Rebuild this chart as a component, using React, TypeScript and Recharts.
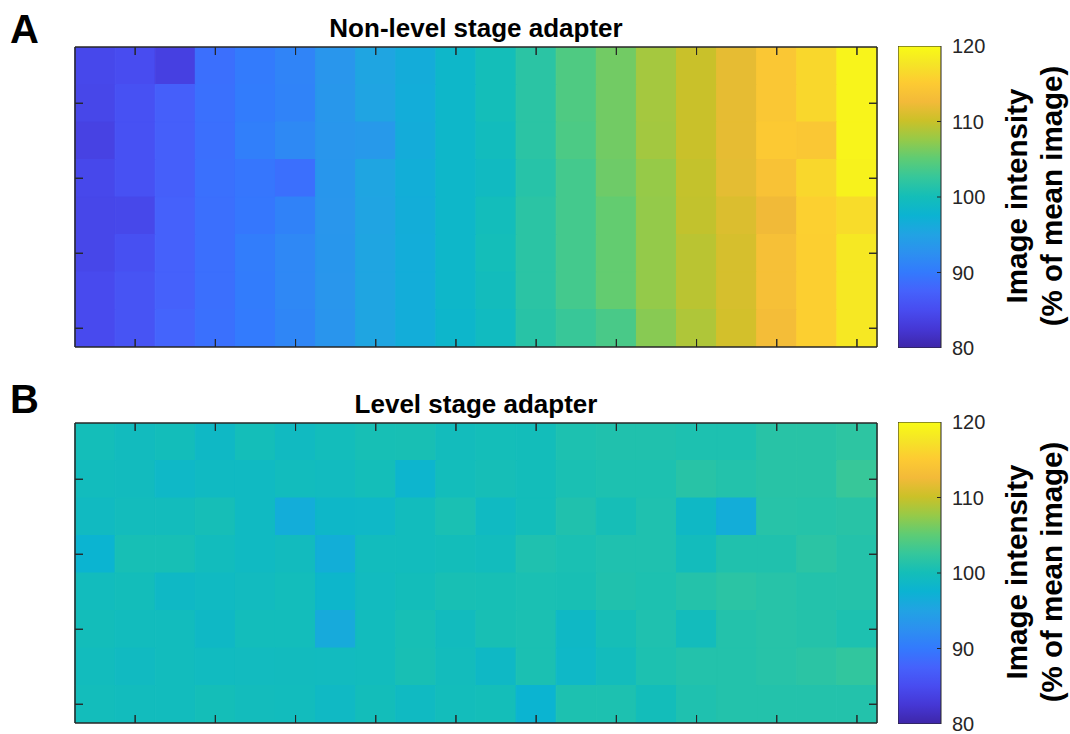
import React from 'react';
import { BarChart, Bar, Cell, XAxis, YAxis } from 'recharts';

// Grid layout: 20 columns x 8 rows per panel
const COLUMNS = [1, 2, 3, 4, 5, 6, 7, 8, 9, 10, 11, 12, 13, 14, 15, 16, 17, 18, 19, 20];
const X_TICKS = [2, 4, 6, 8, 10, 12, 14, 16, 18, 20];
const Y_TICKS = [2, 4, 6, 8];
const COLOR_TICKS = [80, 90, 100, 110, 120];
const COLOR_RANGE = [80, 120];

// Image intensity (% of mean image), one array per row, top row first
const nonLevelRows = [
  [84.6, 85.0, 83.6, 88.9, 90.2, 91.2, 93.3, 95.3, 96.5, 98.4, 100.0, 101.8, 104.2, 106.0, 108.3, 110.0, 111.8, 114.5, 116.3, 119.2],
  [84.4, 85.6, 87.2, 89.0, 90.3, 91.1, 93.5, 95.2, 96.6, 98.4, 100.0, 101.8, 104.2, 106.0, 108.3, 110.0, 111.8, 114.5, 116.3, 119.2],
  [83.8, 85.6, 87.2, 88.9, 90.6, 91.8, 93.3, 93.8, 96.5, 98.4, 99.6, 101.8, 104.0, 106.0, 108.2, 110.0, 111.8, 114.8, 114.5, 119.2],
  [84.6, 85.6, 87.2, 89.0, 89.6, 88.9, 93.4, 95.3, 96.8, 98.4, 99.2, 101.5, 103.5, 105.8, 107.6, 109.8, 111.7, 113.8, 116.3, 119.0],
  [84.4, 84.5, 87.4, 88.9, 89.7, 91.0, 93.3, 95.2, 96.7, 98.4, 99.8, 101.8, 103.5, 105.3, 107.5, 109.7, 111.1, 112.5, 115.6, 116.8],
  [84.4, 85.5, 87.4, 88.9, 90.4, 91.6, 93.4, 95.3, 96.6, 98.4, 100.0, 101.8, 103.5, 105.3, 107.5, 109.3, 110.8, 113.5, 115.5, 118.0],
  [84.8, 85.9, 87.4, 88.9, 90.3, 91.6, 93.3, 95.3, 96.6, 98.4, 99.7, 101.8, 103.5, 105.3, 107.5, 109.3, 110.8, 113.5, 115.5, 118.0],
  [84.8, 85.9, 87.7, 89.0, 90.1, 91.4, 93.2, 95.3, 96.6, 98.2, 99.3, 101.6, 102.8, 103.8, 107.0, 108.8, 110.6, 113.0, 115.5, 118.0],
];

const levelRows = [
  [100.0, 99.5, 99.9, 98.8, 100.0, 99.2, 99.8, 100.3, 100.4, 99.7, 100.0, 99.9, 100.8, 101.0, 101.0, 100.8, 100.8, 101.6, 101.6, 102.0],
  [99.6, 99.5, 98.6, 99.1, 99.1, 99.6, 99.4, 100.0, 98.0, 99.8, 100.2, 99.9, 100.5, 100.8, 100.8, 101.6, 101.2, 101.6, 101.6, 102.7],
  [99.2, 99.7, 99.7, 100.2, 99.1, 96.6, 98.5, 98.6, 99.6, 100.5, 99.1, 99.9, 101.0, 100.2, 100.9, 98.8, 96.7, 101.5, 101.4, 101.6],
  [97.7, 100.3, 100.3, 99.6, 99.1, 99.5, 96.8, 99.6, 99.6, 99.9, 99.6, 100.9, 100.5, 100.9, 100.9, 99.7, 101.0, 101.0, 101.8, 101.3],
  [99.6, 99.9, 98.8, 99.1, 99.4, 99.8, 98.2, 99.4, 99.9, 100.4, 100.3, 100.5, 100.4, 101.0, 100.8, 101.3, 101.8, 101.5, 101.2, 101.3],
  [99.9, 99.6, 99.6, 98.8, 99.8, 99.8, 96.2, 99.6, 100.3, 99.5, 100.4, 100.6, 98.8, 100.2, 100.9, 99.7, 101.2, 101.5, 101.3, 100.8],
  [99.6, 99.2, 99.6, 99.3, 99.4, 99.5, 99.4, 99.6, 100.4, 99.7, 98.8, 100.6, 98.6, 99.7, 100.8, 101.2, 101.2, 101.5, 101.8, 102.3],
  [99.8, 99.6, 99.6, 100.1, 99.7, 99.6, 98.9, 99.9, 99.1, 99.8, 100.0, 97.7, 100.8, 100.8, 99.9, 100.9, 101.2, 101.2, 101.2, 101.2],
];

// parula colormap, sampled every 16th entry of the 256-step table
const PARULA_STOPS: [number, string][] = [
  [0, '#3e26a8'], [16, '#4537d5'], [32, '#484cf0'], [48, '#4562fc'],
  [64, '#337afd'], [80, '#2c90f0'], [96, '#21a3e3'], [112, '#0bb3d2'],
  [128, '#14beb8'], [144, '#35c79b'], [160, '#5ecc74'], [176, '#96ca48'],
  [192, '#cbc128'], [208, '#f3ba39'], [224, '#fdcb32'], [240, '#f5e526'],
  [255, '#f9fb15'],
];

const hexToRgb = (h: string) => [1, 3, 5].map((i) => parseInt(h.slice(i, i + 2), 16));

function parula(value: number): string {
  const [lo, hi] = COLOR_RANGE;
  const t = Math.min(1, Math.max(0, (value - lo) / (hi - lo))) * 255;
  let k = 0;
  while (k < PARULA_STOPS.length - 2 && PARULA_STOPS[k + 1][0] < t) k++;
  const [p0, c0] = PARULA_STOPS[k];
  const [p1, c1] = PARULA_STOPS[k + 1];
  const f = (t - p0) / (p1 - p0);
  const a = hexToRgb(c0);
  const b = hexToRgb(c1);
  const rgb = a.map((v, i) => Math.round(v + (b[i] - v) * f));
  return `rgb(${rgb.join(',')})`;
}

const FONT = '"Liberation Sans", Arial, Helvetica, sans-serif';
const AXIS_COLOR = '#262626';
const TICK_LEN = 8;
const PLOT_W = 802;
const PLOT_H = 300;
const AX = 1; // thickness reserved for each frame axis
const CB_W = 43;
const CB_PAD = 14;

const frameMargin = { top: 0, right: 0, bottom: 0, left: 0 };
const axisLine = { stroke: AXIS_COLOR, strokeWidth: 1 };

// inward tick marks, no labels (MATLAB-style box axes)
const xTick = (dir: number) => (props: any) => {
  const { x, y, payload } = props;
  if (!X_TICKS.includes(payload.value)) return <g />;
  return <line x1={x} x2={x} y1={y} y2={y + dir * TICK_LEN} stroke={AXIS_COLOR} strokeWidth={1} />;
};

const yTick = (dir: number) => (props: any) => {
  const { x, y } = props;
  return <line x1={x} x2={x + dir * TICK_LEN} y1={y} y2={y} stroke={AXIS_COLOR} strokeWidth={1} />;
};

const gridData = (rows: number[][]) =>
  COLUMNS.map((col) => {
    const entry: Record<string, number> = { col };
    rows.forEach((_, r) => {
      entry[`row${r}`] = 1;
    });
    return entry;
  });

function boxAxes(rowCount: number) {
  const yTickValues = Y_TICKS.map((r) => r - 0.5);
  const common = { tickLine: false, tickSize: 0, tickMargin: 0, interval: 0 as const, axisLine };
  return [
    <XAxis key="b" xAxisId="bottom" dataKey="col" orientation="bottom" height={AX} tick={xTick(-1)} {...common} />,
    <XAxis key="t" xAxisId="top" dataKey="col" orientation="top" height={AX} tick={xTick(1)} {...common} />,
    <YAxis
      key="l"
      yAxisId="left"
      type="number"
      domain={[0, rowCount]}
      reversed
      allowDataOverflow
      ticks={yTickValues}
      width={AX}
      tick={yTick(1)}
      {...common}
    />,
    <YAxis
      key="r"
      yAxisId="right"
      orientation="right"
      type="number"
      domain={[0, rowCount]}
      reversed
      allowDataOverflow
      ticks={yTickValues}
      width={AX}
      tick={yTick(-1)}
      {...common}
    />,
  ];
}

function Heatmap({ rows }: { rows: number[][] }) {
  const data = gridData(rows);
  const w = PLOT_W + 2 * AX;
  const h = PLOT_H + 2 * AX;
  return (
    <div style={{ position: 'relative', width: w, height: h }}>
      <div style={{ position: 'absolute', left: 0, top: 0 }}>
        <BarChart width={w} height={h} data={data} margin={frameMargin} barCategoryGap={0} barGap={0}>
          {rows.map((row, r) => (
            <Bar
              key={r}
              dataKey={`row${r}`}
              stackId="cells"
              xAxisId="bottom"
              yAxisId="left"
              isAnimationActive={false}
            >
              {row.map((v, c) => (
                <Cell key={c} fill={parula(v)} stroke={parula(v)} strokeWidth={1} />
              ))}
            </Bar>
          ))}
          {boxAxes(rows.length)}
        </BarChart>
      </div>
      {/* frame and inward ticks drawn over the cells */}
      <div style={{ position: 'absolute', left: 0, top: 0 }}>
        <BarChart width={w} height={h} data={data} margin={frameMargin}>
          {boxAxes(rows.length)}
        </BarChart>
      </div>
    </div>
  );
}

const colorTick = (props: any) => {
  const { x, y, payload } = props;
  const edge = payload.value === COLOR_RANGE[0] || payload.value === COLOR_RANGE[1];
  return (
    <g>
      {!edge && <line x1={x} x2={x - 4} y1={y} y2={y} stroke={AXIS_COLOR} strokeWidth={1} />}
      <text x={x + 11} y={y} fill={AXIS_COLOR} fontFamily={FONT} fontSize={20} dominantBaseline="central">
        {payload.value}
      </text>
    </g>
  );
};

function Colorbar({ id, height }: { id: string; height: number }) {
  const data = [{ name: 'scale', span: COLOR_RANGE }];
  return (
    <BarChart
      width={CB_W + 60}
      height={height + 2 * CB_PAD}
      data={data}
      margin={{ top: CB_PAD, right: 0, bottom: CB_PAD, left: 0 }}
      barCategoryGap={0}
    >
      <defs>
        <linearGradient id={id} x1="0" y1="1" x2="0" y2="0">
          {PARULA_STOPS.map(([p, c]) => (
            <stop key={p} offset={p / 255} stopColor={c} />
          ))}
        </linearGradient>
      </defs>
      <XAxis dataKey="name" hide />
      <YAxis
        orientation="right"
        type="number"
        domain={COLOR_RANGE}
        allowDataOverflow
        ticks={COLOR_TICKS}
        interval={0}
        width={60}
        tickLine={false}
        tickSize={0}
        tickMargin={0}
        axisLine={false}
        tick={colorTick}
      />
      <Bar dataKey="span" fill={`url(#${id})`} stroke={AXIS_COLOR} strokeWidth={1} isAnimationActive={false} />
    </BarChart>
  );
}

const panels = [
  { letter: 'A', title: 'Non-level stage adapter', rows: nonLevelRows, top: 47, cbTop: 46, cbHeight: 302 },
  { letter: 'B', title: 'Level stage adapter', rows: levelRows, top: 423, cbTop: 422, cbHeight: 302 },
];

export default function App() {
  return (
    <div
      style={{
        position: 'absolute',
        left: 0,
        top: 0,
        width: 1070,
        height: 734,
        background: '#ffffff',
        fontFamily: FONT,
      }}
    >
      {panels.map((p) => (
        <React.Fragment key={p.letter}>
          <div style={{ position: 'absolute', left: 75 - AX, top: p.top - AX }}>
            <Heatmap rows={p.rows} />
          </div>
          <div style={{ position: 'absolute', left: 898, top: p.cbTop - CB_PAD }}>
            <Colorbar id={`parula${p.letter}`} height={p.cbHeight} />
          </div>
        </React.Fragment>
      ))}
      <svg width={1070} height={734} style={{ position: 'absolute', left: 0, top: 0, pointerEvents: 'none' }}>
        {panels.map((p) => {
          const cbMid = p.cbTop + p.cbHeight / 2 - 1;
          return (
            <g key={p.letter} fontFamily={FONT} fontWeight="bold">
              <text x={10} y={p.top - 10 + (p.letter === 'A' ? 6 : 0)} fontSize={40} fill="#000">
                {p.letter}
              </text>
              <text x={75 + PLOT_W / 2} y={p.top - 10} fontSize={26} textAnchor="middle" fill="#000">
                {p.title}
              </text>
              <text transform={`translate(1027, ${cbMid}) rotate(-90)`} fontSize={29.5} textAnchor="middle" fill="#000">
                Image intensity
              </text>
              <text transform={`translate(1062, ${cbMid}) rotate(-90)`} fontSize={29.5} textAnchor="middle" fill="#000">
                (% of mean image)
              </text>
            </g>
          );
        })}
      </svg>
    </div>
  );
}
